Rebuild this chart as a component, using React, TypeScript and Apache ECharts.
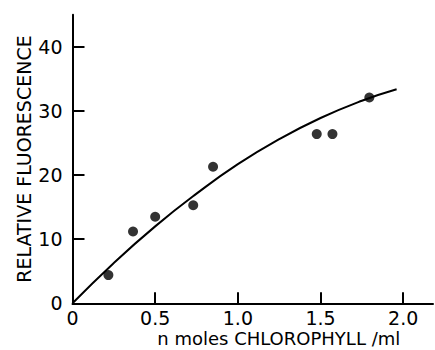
import React, { useEffect, useRef } from "react";
import * as echarts from "echarts";

const xTicks = [0, 0.5, 1.0, 1.5, 2.0];
const yTicks = [0, 10, 20, 30, 40];
const pointsX = [0.217, 0.366, 0.5, 0.73, 0.85, 1.477, 1.572, 1.795];
const pointsY = [4.4, 11.2, 13.5, 15.3, 21.3, 26.4, 26.4, 32.1];
const curveX = [0, 0.25, 0.5, 0.75, 1.0, 1.25, 1.5, 1.75, 1.96];
const curveY = [0, 6.3, 12.0, 17.1, 21.7, 25.6, 28.9, 31.6, 33.4];

const FONT = "DejaVu Sans";

export default function App() {
  const ref = useRef<HTMLDivElement>(null);
  useEffect(() => {
    if (!ref.current) return;
    const chart = echarts.init(ref.current, undefined, { renderer: "svg" });
    chart.setOption({
      animation: false,
      backgroundColor: "#fff",
      grid: { left: 72.5, right: 2, top: 14.8, bottom: 46.7, outerBoundsMode: "none", containLabel: false },
      xAxis: {
        type: "value",
        min: 0,
        max: 2.18,
        interval: 0.5,
        name: "n moles CHLOROPHYLL /ml",
        nameLocation: "middle",
        nameGap: 26,
        nameMoveOverlap: false,
        nameTextStyle: {
          fontFamily: FONT,
          fontSize: 18,
          lineHeight: 18,
          color: "#000",
          padding: [0, 0, 0, 52],
        },
        splitLine: { show: false },
        axisLine: { lineStyle: { color: "#000", width: 2 } },
        axisTick: {
          inside: true,
          length: 11,
          lineStyle: { color: "#000", width: 2 },
          customValues: xTicks,
        },
        axisLabel: {
          margin: 5,
          fontFamily: FONT,
          fontSize: 19,
          color: "#000",
          customValues: xTicks,
          formatter: (v: number) => (v === 0 ? "0" : v.toFixed(1)),
        },
      },
      yAxis: {
        type: "value",
        min: 0,
        max: 45,
        interval: 10,
        name: "RELATIVE FLUORESCENCE",
        nameLocation: "middle",
        nameGap: 39,
        nameMoveOverlap: false,
        nameRotate: 90,
        nameTextStyle: { fontFamily: FONT, fontSize: 19, color: "#000" },
        splitLine: { show: false },
        axisLine: { lineStyle: { color: "#000", width: 2 } },
        axisTick: {
          inside: true,
          length: 12,
          lineStyle: { color: "#000", width: 2 },
          customValues: yTicks,
        },
        axisLabel: {
          margin: 10,
          fontFamily: FONT,
          fontSize: 19,
          color: "#000",
          customValues: yTicks,
        },
      },
      series: [
        {
          type: "line",
          data: curveX.map((x, i) => [x, curveY[i]]),
          smooth: true,
          showSymbol: false,
          lineStyle: { color: "#000", width: 2 },
          z: 2,
        },
        {
          type: "scatter",
          data: pointsX.map((x, i) => [x, pointsY[i]]),
          symbol: "circle",
          symbolSize: 10,
          itemStyle: { color: "#000" },
          z: 3,
        },
      ],
    });
    return () => chart.dispose();
  }, []);
  return (
    <div
      ref={ref}
      style={{ position: "fixed", left: 0, top: 0, width: 435, height: 350 }}
    />
  );
}
